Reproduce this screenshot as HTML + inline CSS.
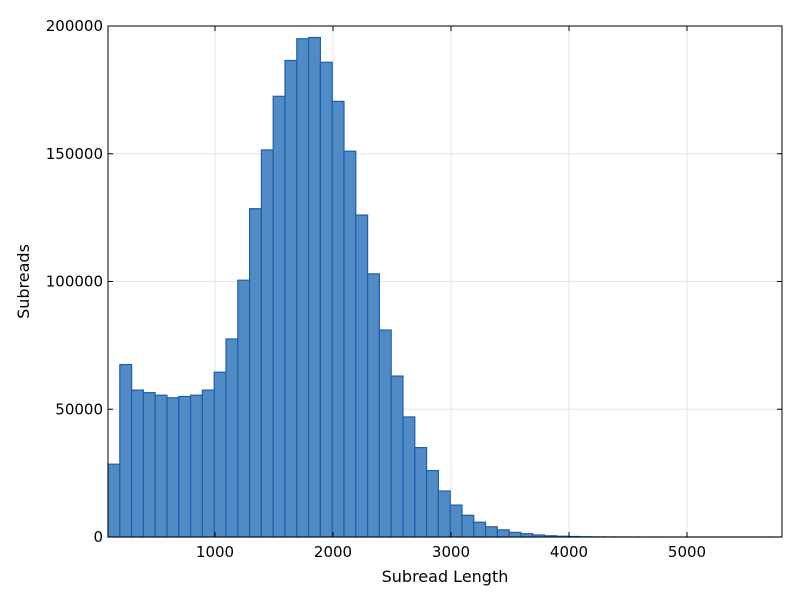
<!DOCTYPE html>
<html><head><meta charset="utf-8"><style>
body{margin:0;background:#fff;font-family:"DejaVu Sans","Liberation Sans",sans-serif}
text{font-family:"DejaVu Sans","Liberation Sans",sans-serif}
</style></head><body>
<svg id="chart" width="800" height="600" xmlns="http://www.w3.org/2000/svg">
<rect width="800" height="600" fill="#fff"/>
<g id="grid"></g><g id="bars"></g><g id="axes"></g>
</svg>
<script>
const binStart = 93;
const binWidth = 100;
const counts = [28500,67500,57500,56500,55500,54500,55000,55500,57500,64500,77500,100500,128500,151500,172500,186500,195000,195500,185800,170500,151000,126000,103000,81000,63000,47000,35000,26000,18000,12500,8500,5800,4000,2800,1800,1300,800,500,300,200,100,60,40,30,20,15,10,8,5,4,3,2,2,1,1,1,1];
const xTicks = [1000,2000,3000,4000,5000];
const yTicks = [0,50000,100000,150000,200000];
const xMin = 93, xMax = 5805, yMax = 200000;
const L=108,R=782,T=26,B=537;
const sx=v=>L+(v-xMin)/(xMax-xMin)*(R-L);
const sy=v=>B-v/yMax*(B-T);
const NS="http://www.w3.org/2000/svg";
function mk(tag,attrs,parent){const e=document.createElementNS(NS,tag);for(const k in attrs)e.setAttribute(k,attrs[k]);parent.appendChild(e);return e;}
const grid=document.getElementById('grid'),bars=document.getElementById('bars'),axes=document.getElementById('axes');
xTicks.forEach(t=>{
  const g=mk('line',{x1:sx(t),x2:sx(t),y1:T,y2:B,stroke:'#e6e6e6','stroke-width':1},grid);
  
  
  const tk=mk('line',{x1:sx(t),x2:sx(t),y1:B,y2:B-5,stroke:'#000'},axes);
  
  
  const tk2=mk('line',{x1:sx(t),x2:sx(t),y1:T,y2:T+5,stroke:'#000'},axes);
  
  
  const lb=mk('text',{x:sx(t),y:B+20,'text-anchor':'middle','font-size':15},axes);lb.textContent=t;
  
  
});
yTicks.forEach(t=>{
  const g=mk('line',{x1:L,x2:R,y1:sy(t),y2:sy(t),stroke:'#e6e6e6','stroke-width':1},grid);
  
  
  const tk=mk('line',{x1:L,x2:L+5,y1:sy(t),y2:sy(t),stroke:'#000'},axes);
  
  
  const tk2=mk('line',{x1:R,x2:R-5,y1:sy(t),y2:sy(t),stroke:'#000'},axes);
  
  
  const lb=mk('text',{x:L-5,y:sy(t)+5,'text-anchor':'end','font-size':15},axes);lb.textContent=t;
  
  
});
counts.forEach((c,i)=>{
  const x0=sx(binStart+i*binWidth),x1=sx(binStart+(i+1)*binWidth);
  const r=mk('rect',{x:x0,y:sy(c),width:x1-x0,height:B-sy(c),fill:'#508bc6',stroke:'#1d5fae','stroke-width':1.2},bars);
  
  
});
const fr=mk('rect',{x:L,y:T,width:R-L,height:B-T,fill:'none',stroke:'#000','stroke-width':1},axes);


const xt=mk('text',{x:(L+R)/2,y:582,'text-anchor':'middle','font-size':16},axes);xt.textContent='Subread Length';


const yt=mk('text',{x:29,y:(T+B)/2,'text-anchor':'middle','font-size':16,transform:`rotate(-90 29 ${(T+B)/2})`},axes);yt.textContent='Subreads';


</script>
</body></html>
